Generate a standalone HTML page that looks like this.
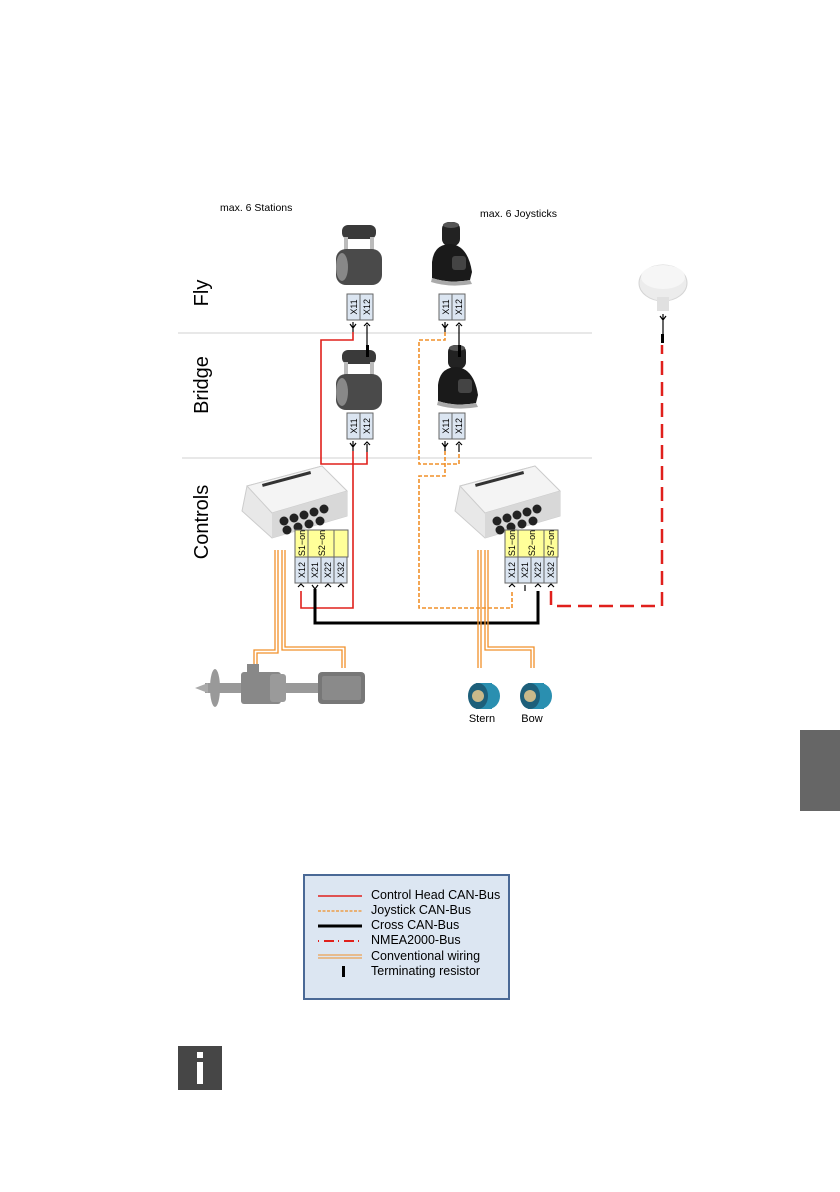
<!DOCTYPE html>
<html><head><meta charset="utf-8"><style>
html,body{margin:0;padding:0;background:#fff;}
svg{display:block;font-family:"Liberation Sans",Arial,sans-serif;}
</style></head><body>
<svg width="840" height="1192" viewBox="0 0 840 1192" xmlns="http://www.w3.org/2000/svg">
<defs>
<g id="box2"><rect x="0" y="0" width="13" height="26" fill="#dbe5f1" stroke="#666" stroke-width="1"/><rect x="13" y="0" width="13" height="26" fill="#dbe5f1" stroke="#666" stroke-width="1"/>
<text transform="translate(10,13) rotate(-90)" font-size="9" text-anchor="middle">X11</text>
<text transform="translate(23,13) rotate(-90)" font-size="9" text-anchor="middle">X12</text></g>
<g id="lever">
<rect x="8" y="0" width="34" height="14" rx="6" fill="#3a3a3a"/>
<rect x="10" y="12" width="4" height="18" fill="#bbb"/><rect x="36" y="12" width="4" height="18" fill="#bbb"/>
<rect x="2" y="24" width="46" height="36" rx="10" fill="#4a4a4a"/>
<ellipse cx="8" cy="42" rx="6" ry="14" fill="#888"/>
</g>
<g id="joy">
<rect x="14" y="0" width="18" height="24" rx="7" fill="#222"/>
<ellipse cx="23" cy="3" rx="8" ry="3" fill="#555"/>
<path d="M4 40 Q6 22 23 22 Q40 24 44 50 L42 58 Q22 62 4 56 Z" fill="#1a1a1a"/>
<path d="M4 56 Q22 62 42 58 L44 62 Q22 66 3 60Z" fill="#aaa"/>
<rect x="24" y="34" width="14" height="14" rx="3" fill="#444"/>
</g>
<g id="ctrl">
<path d="M5 20 L80 0 L105 25 L105 50 L30 72 L0 45 Z" fill="#e8e8e8" stroke="#ccc"/>
<path d="M5 20 L80 0 L105 25 L30 47 Z" fill="#f4f4f4" stroke="#ccc"/>
<path d="M30 47 L105 25 L105 50 L30 72Z" fill="#d8d8d8"/>
<g fill="#222"><circle cx="42" cy="55" r="4.5"/><circle cx="52" cy="52" r="4.5"/><circle cx="62" cy="49" r="4.5"/><circle cx="72" cy="46" r="4.5"/><circle cx="82" cy="43" r="4.5"/>
<circle cx="45" cy="64" r="4.5"/><circle cx="56" cy="61" r="4.5"/><circle cx="67" cy="58" r="4.5"/><circle cx="78" cy="55" r="4.5"/></g>
<rect x="20" y="18" width="50" height="3" fill="#333" transform="rotate(-15 20 18)"/>
</g>
<g id="fan">
<ellipse cx="20" cy="15" rx="12" ry="13" fill="#2a8fb0"/>
<rect x="8" y="2" width="16" height="26" fill="#2a8fb0"/>
<ellipse cx="10" cy="15" rx="10" ry="13" fill="#1d5f7a"/>
<circle cx="10" cy="15" r="6" fill="#c9b98a"/>
</g>
</defs>

<line x1="178" y1="333" x2="592" y2="333" stroke="#d0d0d0" stroke-width="1"/>
<line x1="182" y1="458" x2="592" y2="458" stroke="#d0d0d0" stroke-width="1"/>

<text x="220" y="211" font-size="10.5">max. 6 Stations</text>
<text x="480" y="217" font-size="10.5">max. 6 Joysticks</text>
<text transform="translate(208,293) rotate(-90)" font-size="20" text-anchor="middle">Fly</text>
<text transform="translate(208,385) rotate(-90)" font-size="20" text-anchor="middle">Bridge</text>
<text transform="translate(208,522) rotate(-90)" font-size="20" text-anchor="middle">Controls</text>

<use href="#lever" x="334" y="225"/>
<use href="#lever" x="334" y="350"/>
<use href="#joy" x="428" y="222"/>
<use href="#joy" x="434" y="345"/>
<use href="#box2" x="347" y="294"/>
<use href="#box2" x="439" y="294"/>
<use href="#box2" x="347" y="413"/>
<use href="#box2" x="439" y="413"/>

<ellipse cx="663" cy="283" rx="24" ry="18" fill="#ececec" stroke="#d5d5d5"/>
<ellipse cx="663" cy="277" rx="22" ry="12" fill="#f6f6f6"/>
<rect x="657" y="297" width="12" height="14" fill="#e0e0e0"/>

<g stroke="#000" stroke-width="1.2" fill="none">
<path d="M350 324 l3 4 l3 -4 M353 322 v10"/><path d="M364 326 l3 -3 l3 3 M367 325 v20"/>
<path d="M442 324 l3 4 l3 -4 M445 322 v10"/><path d="M456 326 l3 -3 l3 3 M459 325 v20"/>
<path d="M350 443 l3 4 l3 -4 M353 441 v10"/><path d="M364 445 l3 -3 l3 3 M367 444 v8"/>
<path d="M442 443 l3 4 l3 -4 M445 441 v10"/><path d="M456 445 l3 -3 l3 3 M459 444 v8"/>
<path d="M660 316 l3 4 l3 -4 M663 314 v20"/>
<path d="M298 587 l3 -3 l3 3"/><path d="M312 585 l3 4 l3 -4"/><path d="M325 587 l3 -3 l3 3"/><path d="M338 587 l3 -3 l3 3"/>
<path d="M509 587 l3 -3 l3 3"/><path d="M525 585 v6"/><path d="M535 587 l3 -3 l3 3"/><path d="M548 587 l3 -3 l3 3"/>
</g>
<rect x="366" y="345" width="3" height="12" fill="#000"/>
<rect x="458" y="345" width="3" height="12" fill="#000"/>
<rect x="661" y="334" width="3" height="9" fill="#000"/>

<use href="#ctrl" x="242" y="466"/>
<use href="#ctrl" x="455" y="466"/>

<rect x="295" y="530" width="53" height="27" fill="#ffff99" stroke="#666"/>
<line x1="308" y1="530" x2="308" y2="557" stroke="#666"/><line x1="334" y1="530" x2="334" y2="557" stroke="#666"/>
<text transform="translate(305,543) rotate(-90)" font-size="9" text-anchor="middle">S1−on</text>
<text transform="translate(325,543) rotate(-90)" font-size="9" text-anchor="middle">S2−on</text>
<g fill="#dbe5f1" stroke="#666"><rect x="295" y="557" width="13" height="26"/><rect x="308" y="557" width="13" height="26"/><rect x="321" y="557" width="13" height="26"/><rect x="334" y="557" width="13" height="26"/></g>
<g font-size="9" text-anchor="middle">
<text transform="translate(305,570) rotate(-90)">X12</text><text transform="translate(318,570) rotate(-90)">X21</text><text transform="translate(331,570) rotate(-90)">X22</text><text transform="translate(344,570) rotate(-90)">X32</text></g>
<rect x="505" y="530" width="53" height="27" fill="#ffff99" stroke="#666"/>
<line x1="518" y1="530" x2="518" y2="557" stroke="#666"/><line x1="544" y1="530" x2="544" y2="557" stroke="#666"/>
<text transform="translate(515,543) rotate(-90)" font-size="9" text-anchor="middle">S1−on</text>
<text transform="translate(535,543) rotate(-90)" font-size="9" text-anchor="middle">S2−on</text>
<text transform="translate(554,543) rotate(-90)" font-size="9" text-anchor="middle">S7−on</text>
<g fill="#dbe5f1" stroke="#666"><rect x="505" y="557" width="13" height="26"/><rect x="518" y="557" width="13" height="26"/><rect x="531" y="557" width="13" height="26"/><rect x="544" y="557" width="13" height="26"/></g>
<g font-size="9" text-anchor="middle">
<text transform="translate(515,570) rotate(-90)">X12</text><text transform="translate(528,570) rotate(-90)">X21</text><text transform="translate(541,570) rotate(-90)">X22</text><text transform="translate(554,570) rotate(-90)">X32</text></g>

<g stroke="#e0201c" stroke-width="1.6" fill="none">
<path d="M353 332 V340 H321 V464 H367 V452"/>
<path d="M353 451 V608 H301 V591"/>
</g>
<g stroke="#f0902a" stroke-width="1.6" fill="none" stroke-dasharray="4,2">
<path d="M445 332 V340 H419 V464 H459 V452"/>
<path d="M445 451 V476 H419 V608 H512 V591"/>
</g>
<path d="M315 589 V623 H538 V591" stroke="#000" stroke-width="3" fill="none"/>
<path d="M551 591 V606 H662 V345" stroke="#e0201c" stroke-width="2.5" fill="none" stroke-dasharray="14,7"/>

<g stroke="#f0902a" stroke-width="1.3" fill="none">
<path d="M275 550 V650 H254 V668"/><path d="M278 550 V653 H257 V668"/>
<path d="M282 550 V650 H342 V668"/><path d="M285 550 V647 H345 V668"/>
<path d="M478 550 V668"/><path d="M481 550 V668"/>
<path d="M485 550 V650 H531 V668"/><path d="M488 550 V647 H534 V668"/>
</g>

<rect x="205" y="683" width="140" height="10" fill="#999"/>
<path d="M195 688 L208 683 L208 693Z" fill="#aaa"/>
<ellipse cx="215" cy="688" rx="5" ry="19" fill="#999"/>
<rect x="241" y="672" width="40" height="32" rx="3" fill="#888"/>
<rect x="247" y="664" width="12" height="8" fill="#888"/>
<rect x="270" y="674" width="16" height="28" rx="3" fill="#9a9a9a"/>
<rect x="318" y="672" width="47" height="32" rx="4" fill="#777"/>
<rect x="322" y="676" width="39" height="24" rx="2" fill="#8a8a8a"/>

<use href="#fan" x="468" y="681"/>
<use href="#fan" x="520" y="681"/>
<text x="482" y="722" font-size="11" text-anchor="middle">Stern</text>
<text x="532" y="722" font-size="11" text-anchor="middle">Bow</text>

<rect x="304" y="875" width="205" height="124" fill="#dce6f2" stroke="#4a6996" stroke-width="2"/>
<line x1="318" y1="896" x2="362" y2="896" stroke="#e0201c" stroke-width="1.5"/>
<line x1="318" y1="911" x2="362" y2="911" stroke="#f0902a" stroke-width="1.3" stroke-dasharray="3,1.5"/>
<line x1="318" y1="926" x2="362" y2="926" stroke="#000" stroke-width="3"/>
<line x1="318" y1="941" x2="362" y2="941" stroke="#e0201c" stroke-width="2" stroke-dasharray="1,5,10,4"/>
<line x1="318" y1="955" x2="362" y2="955" stroke="#f0902a" stroke-width="1"/>
<line x1="318" y1="958" x2="362" y2="958" stroke="#f0902a" stroke-width="1"/>
<rect x="342" y="966" width="3" height="11" fill="#000"/>
<g font-size="12.5" fill="#000">
<text x="371" y="899">Control Head CAN-Bus</text>
<text x="371" y="914">Joystick CAN-Bus</text>
<text x="371" y="929">Cross CAN-Bus</text>
<text x="371" y="944">NMEA2000-Bus</text>
<text x="371" y="960">Conventional wiring</text>
<text x="371" y="975">Terminating resistor</text>
</g>

<rect x="800" y="730" width="40" height="81" fill="#666"/>
<rect x="178" y="1046" width="44" height="44" fill="#464646"/>
<rect x="197" y="1052" width="6" height="6" fill="#fff"/>
<rect x="197" y="1062" width="6" height="22" fill="#fff"/>
</svg>
</body></html>
